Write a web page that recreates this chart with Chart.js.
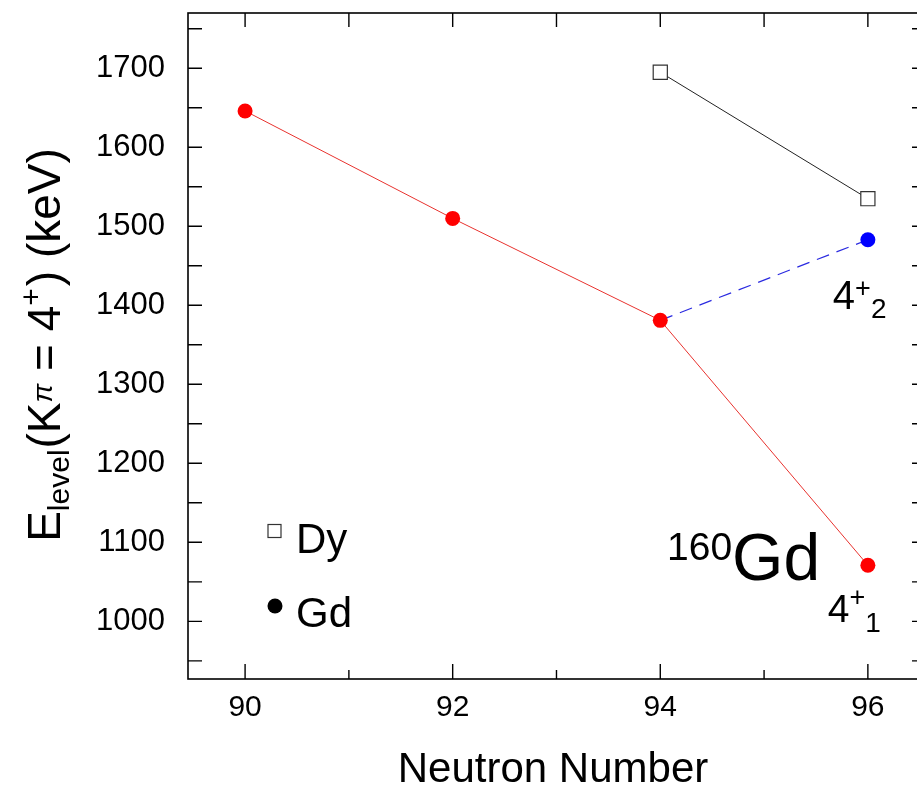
<!DOCTYPE html>
<html>
<head>
<meta charset="utf-8">
<script src="https://cdn.jsdelivr.net/npm/chart.js@4"></script>
<style>
  html, body { margin: 0; padding: 0; background: #fff; overflow: hidden; }
  #wrap { width: 927px; height: 793px; }
</style>
</head>
<body>
<div id="wrap"><canvas id="levelChart"></canvas></div>
<script>
// Gd ground band 4+ (4+_1)
const gdN = [90, 92, 94, 96];
const gdE = [1646, 1510, 1381, 1071];
// Gd second 4+ (4+_2), branching off at N=94
const gd2N = [94, 96];
const gd2E = [1381, 1483];
// Dy
const dyN = [94, 96];
const dyE = [1695, 1535];

// tick labels
const xTicks = [90, 92, 94, 96];
const yTicks = [1000, 1100, 1200, 1300, 1400, 1500, 1600, 1700];

const FONT = "'Liberation Sans', Arial, Helvetica, sans-serif";

function toPoints(xs, ys) {
  return xs.map((v, i) => ({ x: v, y: ys[i] }));
}

// draw a row of text pieces of different sizes / baseline shifts
function drawRuns(ctx, runs, x, y) {
  let cx = x;
  runs.forEach(r => {
    ctx.font = (r.italic ? 'italic ' : '') + r.size + 'px ' + FONT;
    ctx.fillText(r.t, cx, y + (r.dy || 0));
    cx += ctx.measureText(r.t).width + (r.gap || 0);
  });
  return cx - x;
}

function runsWidth(ctx, runs) {
  let w = 0;
  runs.forEach(r => {
    ctx.font = (r.italic ? 'italic ' : '') + r.size + 'px ' + FONT;
    w += ctx.measureText(r.t).width + (r.gap || 0);
  });
  return w;
}

// frame, inward tick marks, titles and text labels
const framePlugin = {
  id: 'framePlugin',
  afterDraw(chart) {
    const { ctx, chartArea: a, scales: { x, y } } = chart;
    ctx.save();
    ctx.strokeStyle = '#000';
    ctx.lineWidth = 1.6;
    ctx.strokeRect(a.left, a.top, a.right - a.left, a.bottom - a.top);

    ctx.lineWidth = 1.4;
    ctx.beginPath();
    for (let v = Math.ceil(y.min / 50) * 50; v <= y.max; v += 50) {
      const py = y.getPixelForValue(v);
      ctx.moveTo(a.left, py); ctx.lineTo(a.left + 14, py);
      ctx.moveTo(a.right, py); ctx.lineTo(a.right - 14, py);
    }
    for (let v = Math.ceil(x.min); v <= x.max; v++) {
      const px = x.getPixelForValue(v);
      const len = v % 2 === 0 ? 15 : 9;
      ctx.moveTo(px, a.bottom); ctx.lineTo(px, a.bottom - len);
      ctx.moveTo(px, a.top); ctx.lineTo(px, a.top + 14);
    }
    ctx.stroke();

    ctx.fillStyle = '#000';
    ctx.textBaseline = 'alphabetic';
    ctx.textAlign = 'left';

    // x title
    ctx.font = '42px ' + FONT;
    ctx.textAlign = 'center';
    ctx.fillText('Neutron Number', 553, 782);
    ctx.textAlign = 'left';

    // y title, rotated
    const yRuns = [
      { t: 'E', size: 46 },
      { t: 'level', size: 30, dy: 9, gap: 1 },
      { t: '(K', size: 46 },
      { t: 'π', size: 28, dy: -8, italic: true },
      { t: ' = 4', size: 46 },
      { t: '+', size: 30, dy: -19, gap: 2 },
      { t: ') (keV)', size: 46 }
    ];
    ctx.save();
    ctx.translate(60, 345);
    ctx.rotate(-Math.PI / 2);
    drawRuns(ctx, yRuns, -runsWidth(ctx, yRuns) / 2, 0);
    ctx.restore();

    // state labels, placed next to the points they name
    const bx = x.getPixelForValue(gd2N[1]);
    const by = y.getPixelForValue(gd2E[1]);
    drawRuns(ctx, [
      { t: '4', size: 40 },
      { t: '+', size: 27, dy: -12 },
      { t: '2', size: 28, dy: 9 }
    ], bx - 35, by + 69);

    const rx = x.getPixelForValue(gdN[3]);
    const ry = y.getPixelForValue(gdE[3]);
    drawRuns(ctx, [
      { t: '4', size: 39 },
      { t: '+', size: 27, dy: -16 },
      { t: '1', size: 28, dy: 10 }
    ], rx - 40, ry + 57);

    // 160Gd
    drawRuns(ctx, [
      { t: '160', size: 39, dy: -20 },
      { t: 'Gd', size: 66 }
    ], 667, 580);

    // legend
    ctx.strokeStyle = '#333';
    ctx.lineWidth = 1.2;
    ctx.fillStyle = '#fff';
    ctx.fillRect(268, 524.5, 13, 13);
    ctx.strokeRect(268, 524.5, 13, 13);
    ctx.fillStyle = '#000';
    ctx.beginPath();
    ctx.arc(275, 606, 7.5, 0, Math.PI * 2);
    ctx.fill();
    ctx.font = '42px ' + FONT;
    ctx.fillText('Dy', 296, 553);
    ctx.fillText('Gd', 296, 627);
    ctx.restore();
  }
};

const ctx = document.getElementById('levelChart').getContext('2d');

new Chart(ctx, {
  type: 'scatter',
  data: {
    datasets: [
      {
        label: 'Gd 4+1',
        data: toPoints(gdN, gdE),
        showLine: true,
        borderColor: '#e8322e',
        borderWidth: 1,
        backgroundColor: '#ff0000',
        pointBorderColor: '#ff0000',
        pointRadius: 7.5,
        pointBorderWidth: 0
      },
      {
        label: 'Gd 4+2',
        data: toPoints(gd2N, gd2E),
        showLine: true,
        borderColor: '#2a2ae0',
        borderWidth: 1.2,
        borderDash: [13, 8],
        backgroundColor: '#0000ff',
        pointBorderColor: '#0000ff',
        pointRadius: [0, 7.5],
        pointBorderWidth: 0
      },
      {
        label: 'Dy',
        data: toPoints(dyN, dyE),
        showLine: true,
        borderColor: '#222',
        borderWidth: 1,
        pointStyle: 'rect',
        pointRadius: 10,
        pointBackgroundColor: '#fff',
        pointBorderColor: '#333',
        pointBorderWidth: 1.2
      }
    ]
  },
  options: {
    responsive: true,
    maintainAspectRatio: false,
    animation: false,
    events: [],
    // canvas is a bit wider than the window: the right edge of the frame is cut off, as in the original
    layout: { autoPadding: false, padding: { top: 13, right: 1, left: 0, bottom: 0 } },
    plugins: {
      legend: { display: false },
      tooltip: { enabled: false }
    },
    scales: {
      x: {
        type: 'linear',
        min: 89.45,
        max: 96.56,
        grid: { display: false, drawTicks: false, tickLength: 0 },
        border: { display: false },
        afterBuildTicks: scale => { scale.ticks = xTicks.map(v => ({ value: v })); },
        afterFit: scale => {
          scale.height = 114;
          scale.paddingLeft = 0;
          scale.paddingRight = 0;
        },
        ticks: {
          padding: 14,
          color: '#000',
          font: { family: FONT, size: 30, lineHeight: 1 },
          maxRotation: 0,
          callback: v => String(v)
        }
      },
      y: {
        type: 'linear',
        min: 927,
        max: 1770,
        grid: { display: false, drawTicks: false, tickLength: 0 },
        border: { display: false },
        afterBuildTicks: scale => { scale.ticks = yTicks.map(v => ({ value: v })); },
        afterFit: scale => {
          scale.width = 188;
          scale.paddingTop = 0;
          scale.paddingBottom = 0;
        },
        ticks: {
          padding: 23,
          color: '#000',
          font: { family: FONT, size: 31, lineHeight: 1 },
          callback: v => String(v)
        }
      }
    }
  },
  plugins: [framePlugin]
});
</script>
</body>
</html>
